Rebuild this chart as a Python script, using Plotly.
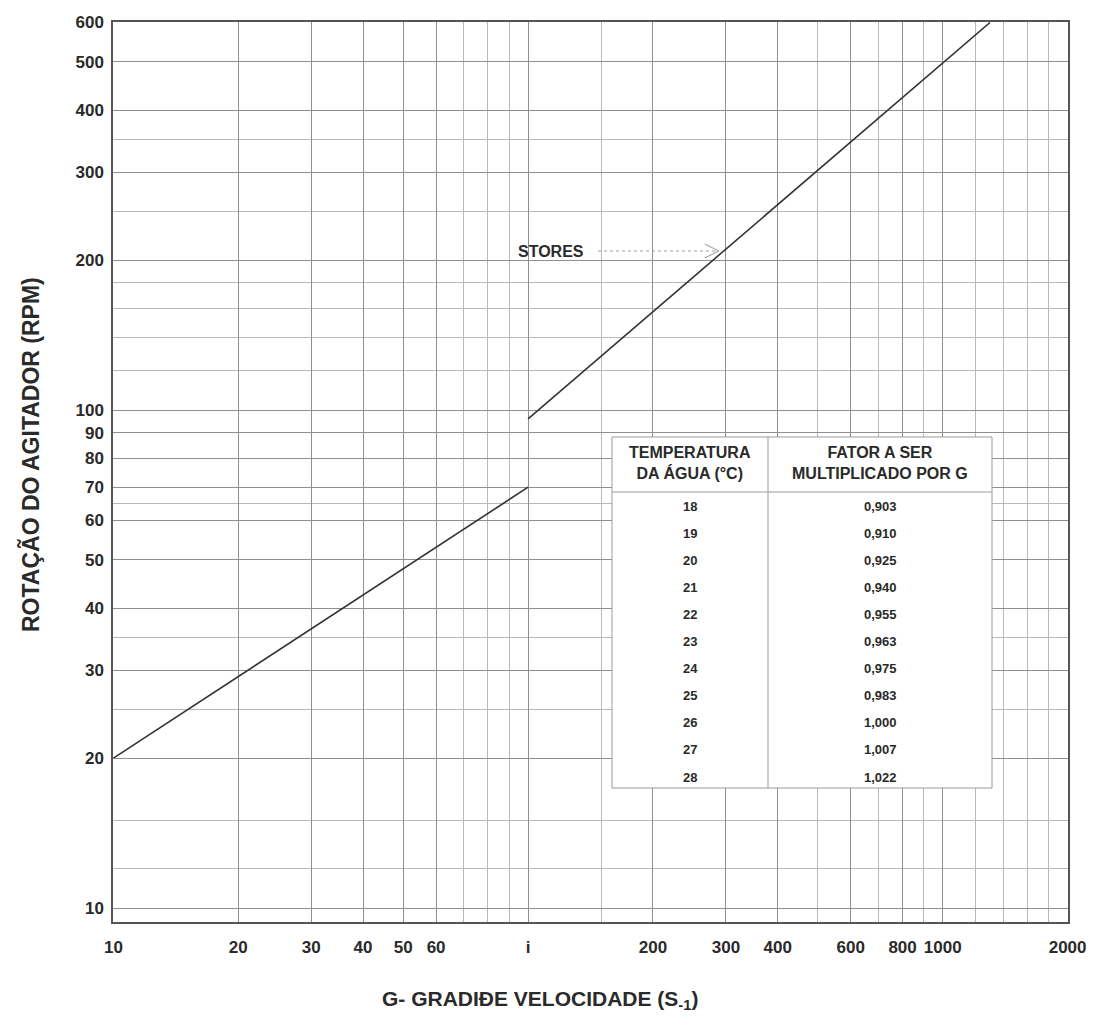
import numpy as np
import plotly.graph_objects as go

# ---------------- data ----------------
g_lower = [10, 100]          # G (s-1), lower segment
n_lower = [20, 70]           # RPM
g_upper = [100, 1300]        # G (s-1), upper segment (Stores)
n_upper = [96, 600]          # RPM

x_tickvals = [10, 20, 30, 40, 50, 60, 100, 200, 300, 400, 600, 800, 1000, 2000]
x_ticktext = ["10", "20", "30", "40", "50", "60", "i", "200", "300", "400", "600", "800", "1000", "2000"]
y_tickvals = [10, 20, 30, 40, 50, 60, 70, 80, 90, 100, 200, 300, 400, 500, 600]
y_ticktext = [str(v) for v in y_tickvals]
x_minor = [70, 80, 90, 150, 500, 700, 900, 1200, 1400, 1600, 1800]
y_minor = [12, 15, 25, 35, 65, 120, 140, 160, 180, 250, 350]

temperatura = ["18", "19", "20", "21", "22", "23", "24", "25", "26", "27", "28"]
fator = ["0,903", "0,910", "0,925", "0,940", "0,955", "0,963", "0,975", "0,983", "1,000", "1,007", "1,022"]

FONT = "Liberation Sans, Arial, sans-serif"
INK = "#2a2a2a"

fig = go.Figure()
fig.add_trace(go.Scatter(x=g_lower, y=n_lower, mode="lines",
                         line=dict(color="#333333", width=1.6), showlegend=False, hoverinfo="skip"))
fig.add_trace(go.Scatter(x=g_upper, y=n_upper, mode="lines",
                         line=dict(color="#333333", width=1.6), showlegend=False, hoverinfo="skip"))

W, H = 1109, 1026
L, R, T, B = 113, 41, 22, 104
pw, ph = W - L - R, H - T - B
XR = [0.999, np.log10(2000) + 0.001]
YR = [0.972, np.log10(600) + 0.001]

def px_x(p):
    return (p - L) / pw

def px_y(p):
    return (H - B - p) / ph

def data_to_px(g, n):
    xp = L + (np.log10(g) - XR[0]) / (XR[1] - XR[0]) * pw
    yp = (H - B) - (np.log10(n) - YR[0]) / (YR[1] - YR[0]) * ph
    return xp, yp

axis_common = dict(
    showline=True, mirror=True, linecolor="#555555", linewidth=1.5,
    showgrid=True, gridcolor="#8f8f8f", gridwidth=1,
    ticks="outside", tickcolor="rgba(0,0,0,0)",
    tickfont=dict(family=FONT, size=17, color=INK, weight="bold"),
    zeroline=False,
)

fig.update_xaxes(type="log", range=XR, ticklen=9,
                 tickmode="array", tickvals=x_tickvals, ticktext=x_ticktext,
                 minor=dict(tickvals=x_minor, showgrid=True, gridcolor="#b8b8b8", gridwidth=1),
                 **axis_common)
fig.update_yaxes(type="log", range=YR, ticklen=4,
                 tickmode="array", tickvals=y_tickvals, ticktext=y_ticktext,
                 minor=dict(tickvals=y_minor, showgrid=True, gridcolor="#b8b8b8", gridwidth=1),
                 **axis_common)

shapes = []
annotations = []

def txt(text, xp, yp, size, **kw):
    d = dict(text=text, x=px_x(xp), y=px_y(yp), xref="paper", yref="paper",
             xanchor="center", yanchor="middle", showarrow=False,
             font=dict(family=FONT, size=size, color=INK, weight="bold"))
    d.update(kw)
    return d

def seg(x0, y0, x1, y1, color, width=1, dash="solid", layer="above"):
    return dict(type="line", xref="paper", yref="paper", x0=px_x(x0), y0=px_y(y0),
                x1=px_x(x1), y1=px_y(y1), line=dict(color=color, width=width, dash=dash), layer=layer)

# ---- table (white box covering grid) ----
shapes.append(dict(type="rect", xref="paper", yref="paper", x0=px_x(612), x1=px_x(992),
                   y0=px_y(788), y1=px_y(437), fillcolor="white",
                   line=dict(color="#9a9a9a", width=1), layer="above"))
shapes.append(seg(768, 437, 768, 788, "#9a9a9a"))
shapes.append(seg(612, 492, 992, 492, "#9a9a9a"))

annotations.append(txt("TEMPERATURA<br>DA ÁGUA (°C)", 690, 463, 16, align="center"))
annotations.append(txt("FATOR A SER<br>MULTIPLICADO POR G", 880, 463, 16, align="center"))
for i, (t, f) in enumerate(zip(temperatura, fator)):
    yp = 506 + 27.1 * i
    annotations.append(txt(t, 690, yp, 13))
    annotations.append(txt(f, 880, yp, 13))

# ---- STORES label with dotted arrow ----
label_y = 251
tip_n = 10 ** (YR[0] + (H - B - label_y) / ph * (YR[1] - YR[0]))
lg = np.interp(np.log10(tip_n), np.log10(n_upper), np.log10(g_upper))
tip_px, _ = data_to_px(10 ** lg, tip_n)
tip_px -= 5
annotations.append(txt("STORES", 551, label_y, 16))
shapes.append(seg(598, label_y, tip_px - 2, label_y, "#a0a0a0", 1.2, "dot"))
shapes.append(seg(tip_px - 14, label_y - 7, tip_px, label_y, "#a8a8a8", 1.2))
shapes.append(seg(tip_px - 14, label_y + 7, tip_px, label_y, "#a8a8a8", 1.2))

# ---- axis titles ----
annotations.append(txt("ROTAÇÃO DO AGITADOR (RPM)", 30, 455, 23, textangle=-90))
annotations.append(txt("G- GRADIÐE VELOCIDADE (S<sub>-1</sub>)", 540, 1000, 21))

fig.update_layout(width=W, height=H, margin=dict(l=L, r=R, t=T, b=B),
                  paper_bgcolor="white", plot_bgcolor="white",
                  shapes=shapes, annotations=annotations, showlegend=False)

fig.write_html("out.html")
